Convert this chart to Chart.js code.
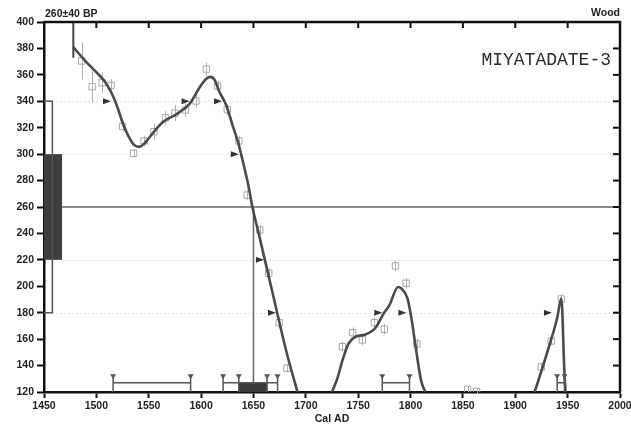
<!DOCTYPE html>
<html>
<head>
<meta charset="utf-8">
<script src="https://cdn.jsdelivr.net/npm/chart.js@4.4.1/dist/chart.umd.min.js"></script>
<style>
  html, body { margin: 0; padding: 0; background: #fff; }
  #wrap { width: 631px; height: 428px; }
</style>
</head>
<body>
<div id="wrap"><canvas id="calChart" width="631" height="428"></canvas></div>
<script>
// --- data --- //
// calibration curve, null BP = break in the curve
const curveYears = [1478, 1490, 1500, 1508, 1514, 1519, 1525, 1531, 1536, 1541, 1547, 1551, 1563, 1576, 1589, 1599, 1605, 1609, 1613, 1617, 1624, 1630, 1636, 1640, 1645, 1649, 1655, 1660, 1670, 1681, 1692,
  1708,
  1725, 1730, 1735, 1741, 1748, 1757, 1767, 1774, 1780, 1788, 1791, 1797, 1801, 1804, 1810, 1814,
  1880,
  1918.5, 1925, 1934, 1940, 1944, 1947, 1948];
const curveBP = [381, 370, 362, 355, 347, 338, 324, 313, 307, 305.5, 309, 313, 324, 330, 338, 351, 357, 358.5, 356, 348, 337, 322, 307, 294, 277, 260, 240, 223, 189, 152, 120,
  null,
  120, 130, 144, 157, 162, 163.5, 169, 179, 186, 199.5, 198.5, 191, 175, 159, 129, 120,
  null,
  120, 136, 159, 176, 191, 133, 120];

// raw calibration data points and their errors
const ptYears = [1486, 1496, 1505.5, 1514, 1525, 1535.5, 1545.6, 1555, 1566, 1575, 1585, 1595, 1605, 1615.7, 1625, 1636, 1644, 1656, 1664.6, 1674.6, 1682,
  1735, 1744.7, 1754, 1765.5, 1775, 1785.6, 1795.8, 1806, 1854.5, 1863, 1924.8, 1934.4, 1944];
const ptBP = [370.5, 351, 354, 352, 321, 300.6, 310, 317, 327.5, 331, 333.4, 340.2, 364.4, 351.5, 333.7, 310, 269, 242.6, 209.8, 172.5, 138,
  154.3, 164.9, 159.4, 172.5, 167.5, 215.4, 202.3, 156.3, 122, 120.5, 139, 158.6, 190.4];
const ptErr = [14, 12, 8, 5, 4, 3, 4, 6, 5, 6, 5, 5, 5, 4, 4, 4, 4, 4, 4, 4, 3,
  4, 4, 4, 4, 4, 4, 4, 4, 2, 2, 3, 3, 4];

// measured date
const bpMean = 260;
const bpErr = 40;
const interceptYear = 1650;

// calibrated ranges
const range2Sigma = [[1516, 1590], [1621, 1673], [1773, 1799], [1940, 1947]];
const range1Sigma = [[1636, 1663]];

// flags where the curve crosses the sigma levels
const flagYears = [1514, 1589, 1620, 1636, 1660, 1671.5, 1773, 1796, 1935];
const flagBP = [340, 340, 340, 300, 220, 180, 180, 180, 180];

// odd start line of the curve
const startLineYears = [1478, 1478];
const startLineBP = [400, 373];

const xTicks = [1450, 1500, 1550, 1600, 1650, 1700, 1750, 1800, 1850, 1900, 1950, 2000];
const yTicks = [120, 140, 160, 180, 200, 220, 240, 260, 280, 300, 320, 340, 360, 380, 400];

const FONT = '"Liberation Sans", Arial, sans-serif';
const BOX_1S_END = 1467.2; // right edge of the 1 sigma BP box
const BOX_2S_END = 1458;   // right edge of the 2 sigma BP box

const pairs = (xs, ys) => xs.map((v, i) => ({ x: v, y: ys[i] }));

// --- plugin for the extra drawings --- //
const calibDecor = {
  id: 'calibDecor',
  beforeDatasetsDraw(chart) {
    const { ctx, scales: { x, y }, chartArea: a } = chart;
    ctx.save();
    // faint dotted sigma levels
    ctx.strokeStyle = '#cfcfcf';
    ctx.lineWidth = 1;
    ctx.setLineDash([1, 3]);
    [[bpMean + 2 * bpErr, BOX_2S_END], [bpMean - 2 * bpErr, BOX_2S_END], [bpMean + bpErr, BOX_1S_END], [bpMean - bpErr, BOX_1S_END]].forEach(([lvl, from]) => {
      const py = Math.round(y.getPixelForValue(lvl)) + 0.5;
      ctx.beginPath();
      ctx.moveTo(x.getPixelForValue(from), py);
      ctx.lineTo(a.right, py);
      ctx.stroke();
    });
    ctx.setLineDash([]);

    // error bars of the data points
    ctx.strokeStyle = '#b0b0b0';
    ctx.lineWidth = 1;
    ptYears.forEach((yr, i) => {
      const px = Math.round(x.getPixelForValue(yr)) + 0.5;
      ctx.beginPath();
      ctx.moveTo(px, y.getPixelForValue(ptBP[i] + ptErr[i]));
      ctx.lineTo(px, y.getPixelForValue(ptBP[i] - ptErr[i]));
      ctx.stroke();
    });
    ctx.restore();
  },
  afterDatasetsDraw(chart) {
    const { ctx, scales: { x, y }, chartArea: a } = chart;
    ctx.save();

    // BP boxes on the left
    ctx.fillStyle = '#3e3e3e';
    const t1 = y.getPixelForValue(bpMean + bpErr), b1 = y.getPixelForValue(bpMean - bpErr);
    ctx.fillRect(a.left, t1, x.getPixelForValue(BOX_1S_END) - a.left, b1 - t1);
    ctx.strokeStyle = '#555';
    ctx.lineWidth = 1.5;
    const t2 = y.getPixelForValue(bpMean + 2 * bpErr), b2 = y.getPixelForValue(bpMean - 2 * bpErr);
    const r2 = x.getPixelForValue(BOX_2S_END);
    ctx.beginPath();
    ctx.moveTo(a.left, t2);
    ctx.lineTo(r2, t2);
    ctx.lineTo(r2, b2);
    ctx.lineTo(a.left, b2);
    ctx.stroke();

    // calibrated ranges on the bottom
    const base = y.getPixelForValue(120);
    const boxTop = y.getPixelForValue(127);
    const triTop = y.getPixelForValue(133.5);
    range1Sigma.forEach(([s, e]) => {
      ctx.fillStyle = '#3a3a3a';
      const xs = x.getPixelForValue(s), xe = x.getPixelForValue(e);
      ctx.fillRect(xs, boxTop, xe - xs, base - boxTop);
    });
    const edgeTri = (px) => {
      ctx.beginPath();
      ctx.moveTo(px, base);
      ctx.lineTo(px, triTop + 3);
      ctx.stroke();
      ctx.beginPath();
      ctx.moveTo(px - 3, triTop);
      ctx.lineTo(px + 3, triTop);
      ctx.lineTo(px, triTop + 5);
      ctx.closePath();
      ctx.fill();
    };
    ctx.strokeStyle = '#555';
    ctx.fillStyle = '#555';
    ctx.lineWidth = 1.5;
    range2Sigma.forEach(([s, e]) => {
      const xs = x.getPixelForValue(s), xe = x.getPixelForValue(e);
      ctx.beginPath();
      ctx.moveTo(xs, boxTop);
      ctx.lineTo(xe, boxTop);
      ctx.stroke();
      edgeTri(xs);
      edgeTri(xe);
    });
    range1Sigma.forEach(([s, e]) => {
      edgeTri(x.getPixelForValue(s));
      edgeTri(x.getPixelForValue(e));
    });

    // flags pointing at the curve
    ctx.fillStyle = '#333';
    flagYears.forEach((yr, i) => {
      const px = x.getPixelForValue(yr), py = y.getPixelForValue(flagBP[i]);
      ctx.beginPath();
      ctx.moveTo(px, py);
      ctx.lineTo(px - 8, py - 3);
      ctx.lineTo(px - 8, py + 3);
      ctx.closePath();
      ctx.fill();
    });

    // top and right frame with inward ticks
    ctx.strokeStyle = '#111';
    ctx.lineWidth = 2.5;
    ctx.beginPath();
    ctx.moveTo(a.left, a.top);
    ctx.lineTo(a.right, a.top);
    ctx.lineTo(a.right, a.bottom);
    ctx.stroke();
    ctx.lineWidth = 2;
    xTicks.slice(1, -1).forEach(v => {
      const px = x.getPixelForValue(v);
      ctx.beginPath();
      ctx.moveTo(px, a.top);
      ctx.lineTo(px, a.top + 6);
      ctx.stroke();
    });
    yTicks.slice(1, -1).forEach(v => {
      const py = y.getPixelForValue(v);
      ctx.beginPath();
      ctx.moveTo(a.right, py);
      ctx.lineTo(a.right - 7, py);
      ctx.stroke();
    });

    // labels
    ctx.fillStyle = '#222';
    ctx.font = 'bold 10.5px ' + FONT;
    ctx.textBaseline = 'alphabetic';
    ctx.textAlign = 'left';
    ctx.fillText(bpMean + '\u00b1' + bpErr + ' BP', a.left + 1, 16.5);
    ctx.textAlign = 'right';
    ctx.fillText('Wood', a.right, 16);
    ctx.font = '18px "Liberation Mono", "DejaVu Sans Mono", monospace';
    ctx.fillStyle = '#2a2a2a';
    ctx.fillText('MIYATADATE-3', a.right - 9, 65);
    ctx.restore();
  }
};

const tickFont = { family: FONT, size: 10.5, weight: 'bold' };

new Chart(document.getElementById('calChart'), {
  type: 'line',
  data: {
    datasets: [
      {
        label: 'curve',
        data: pairs(curveYears, curveBP),
        borderColor: '#4a4a4a',
        borderWidth: 2.6,
        pointRadius: 0,
        cubicInterpolationMode: 'monotone',
        spanGaps: false,
        order: 0
      },
      {
        label: 'start',
        data: pairs(startLineYears, startLineBP),
        borderColor: '#444',
        borderWidth: 2,
        pointRadius: 0,
        order: 1
      },
      {
        label: 'points',
        data: pairs(ptYears, ptBP),
        showLine: false,
        pointStyle: 'rect',
        pointRadius: 4.5,
        pointBorderWidth: 1,
        pointBorderColor: '#a8a8a8',
        pointBackgroundColor: 'rgba(255,255,255,0)',
        order: 2
      },
      {
        label: 'bp line',
        data: pairs([BOX_1S_END, 2000], [bpMean, bpMean]),
        borderColor: '#666',
        borderWidth: 1.5,
        pointRadius: 0,
        order: 3
      },
      {
        label: 'intercept',
        data: pairs([interceptYear, interceptYear], [bpMean, 120]),
        borderColor: '#666',
        borderWidth: 1.5,
        pointRadius: 0,
        order: 3
      }
    ]
  },
  options: {
    responsive: false,
    animation: false,
    layout: { autoPadding: false, padding: { top: 22, right: 11, left: 0, bottom: 0 } },
    plugins: { legend: { display: false }, tooltip: { enabled: false } },
    scales: {
      x: {
        type: 'linear',
        min: 1450,
        max: 2000,
        afterBuildTicks: s => { s.ticks = xTicks.map(v => ({ value: v })); },
        afterFit: s => { s.height = 36; s.paddingLeft = 0; s.paddingRight = 0; },
        grid: { drawOnChartArea: false, drawTicks: true, tickLength: 6, tickWidth: 2, tickColor: '#111' },
        border: { display: true, color: '#111', width: 2.5 },
        ticks: { color: '#222', font: tickFont, padding: 2, maxRotation: 0, autoSkip: false, callback: v => String(v) },
        title: { display: true, text: 'Cal AD', color: '#222', font: tickFont, padding: { top: 0, bottom: 3 } }
      },
      y: {
        type: 'linear',
        min: 120,
        max: 400,
        afterBuildTicks: s => { s.ticks = yTicks.map(v => ({ value: v })); },
        afterFit: s => { s.width = 44; s.paddingTop = 0; s.paddingBottom = 0; },
        grid: { drawOnChartArea: false, drawTicks: true, tickLength: 7, tickWidth: 2, tickColor: '#111' },
        border: { display: true, color: '#111', width: 2.5 },
        ticks: { color: '#222', font: tickFont, padding: 3, autoSkip: false, callback: v => String(v) }
      }
    }
  },
  plugins: [calibDecor]
});
</script>
</body>
</html>
